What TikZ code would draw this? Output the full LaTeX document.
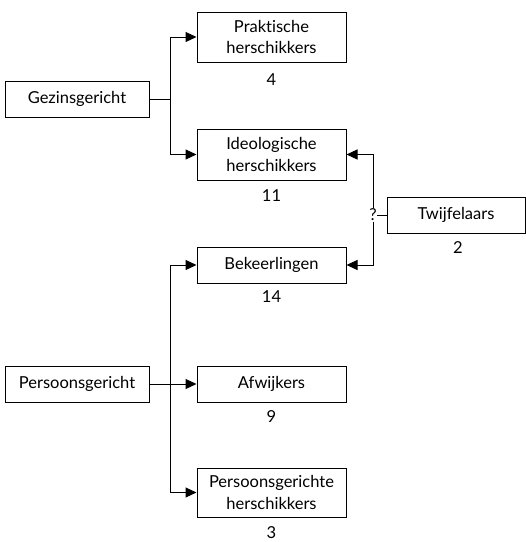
\documentclass[tikz,border=0pt]{standalone}
\usepackage{fontspec}
\setmainfont{Lato}[Ligatures=NoCommon]
\usetikzlibrary{arrows.meta}
\begin{document}
\begin{tikzpicture}[x=1pt,y=-1pt,
  every node/.style={font=\fontsize{16.5}{21.5}\selectfont},
  box/.style={draw, line width=1pt, align=center, inner sep=0pt, minimum width=#1},
  box/.default=149pt,
  cnt/.style={inner sep=0pt},
  conn/.style={line width=1pt},
  arr/.style={line width=1pt, -{Triangle[length=11pt,width=10pt]}}]
\useasboundingbox (0,0) rectangle (526,542);
\node[box=144pt, minimum height=36pt] (gez) at (77,99) {Gezinsgericht};
\node[box, minimum height=50pt] (prak) at (271.5,37) {Praktische\\herschikkers};
\node[box, minimum height=51pt] (ideo) at (271.5,154.5) {Ideologische\\herschikkers};
\node[box, minimum height=36pt] (bek) at (271.5,265) {Bekeerlingen};
\node[box=138pt, minimum height=36pt] (twij) at (456,215) {Twijfelaars};
\node[box=144pt, minimum height=36pt] (pers) at (77,384) {Persoonsgericht};
\node[box, minimum height=36pt] (afw) at (271.5,384) {Afwijkers};
\node[box, minimum height=49pt] (pgh) at (271.5,492.5) {Persoonsgerichte\\herschikkers};
\node[cnt] (n4) at (271.5,80) {4};
\node[cnt] (n11) at (271.5,196) {11};
\node[cnt] (n14) at (271.5,297) {14};
\node[cnt] (n2) at (458,248) {2};
\node[cnt] (n9) at (271.5,417) {9};
\node[cnt] (n3) at (271.5,533) {3};
\node[inner sep=0.3pt, fill=white] (q) at (373,215) {?};
\coordinate (j1) at (170,99);
\coordinate (j2) at (170,384);
\draw[conn] (gez) -- (j1);
\draw[arr] (j1) |- (prak);
\draw[arr] (j1) |- (ideo);
\draw[arr] (pers) -- (afw);
\draw[arr] (j2) |- (bek);
\draw[arr] (j2) |- (pgh);
\draw[conn] (twij) -- (q);
\draw[arr] (q.north) |- (ideo);
\draw[arr] (q.south) |- (bek);
\end{tikzpicture}
\end{document}
